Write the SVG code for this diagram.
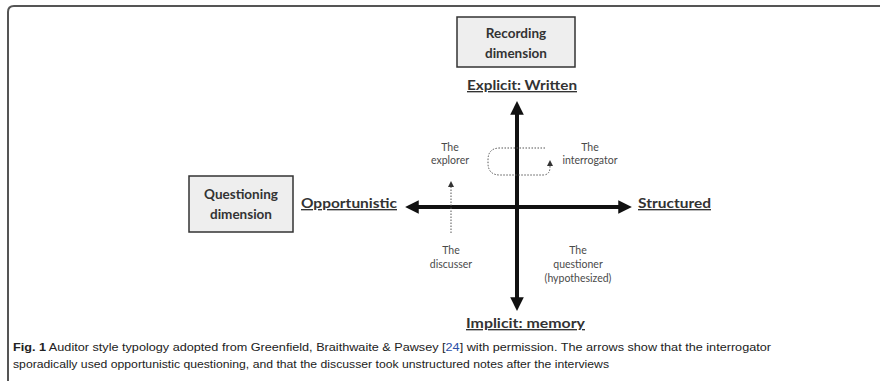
<svg xmlns="http://www.w3.org/2000/svg" width="880" height="381" viewBox="0 0 880 381">
  <defs>
    <style>
      .frame { fill: none; stroke: #555; stroke-width: 2; }
      .dimbox { fill: #eeeeee; stroke: #333; stroke-width: 1.5; }
      .dim { font-family: Lato, "Open Sans", sans-serif; font-weight: bold; font-size: 13.5px; fill: #333; text-anchor: middle; }
      .pole { font-family: Lato, "Open Sans", sans-serif; font-weight: bold; font-size: 13.5px; fill: #333; text-decoration: underline; }
      .axis { stroke: #111; stroke-width: 4; fill: none; }
      .role { font-family: Lato, "Open Sans", sans-serif; font-size: 10.5px; fill: #4a4a4a; text-anchor: middle; }
      .dash { stroke: #555; stroke-width: 1; stroke-dasharray: 1.5 1.5; fill: none; }
      .cap { font-family: "Liberation Sans", Arial, sans-serif; font-size: 11px; fill: #222; }
    </style>
    <marker id="bigHead" viewBox="0 0 10 10" refX="2" refY="5" markerWidth="3.4" markerHeight="3.4" orient="auto-start-reverse" markerUnits="strokeWidth">
      <path d="M0,0 L10,5 L0,10 Z" fill="#111"/>
    </marker>
    <marker id="smallHead" viewBox="0 0 10 10" refX="5" refY="5" markerWidth="6" markerHeight="6" orient="auto" markerUnits="userSpaceOnUse">
      <path d="M0,0 L10,5 L0,10 Z" fill="#333"/>
    </marker>
  </defs>

  <!-- outer figure frame (open at right and bottom) -->
  <path class="frame" d="M8,381 V12 Q8,6 14,6 H880"/>

  <g id="recording-dimension">
    <rect class="dimbox" x="457" y="17" width="118" height="50"/>
    <text class="dim" x="516" y="38">Recording</text>
    <text class="dim" x="516" y="58">dimension</text>
  </g>

  <g id="questioning-dimension">
    <rect class="dimbox" x="189" y="176" width="104" height="56"/>
    <text class="dim" x="241" y="199">Questioning</text>
    <text class="dim" x="241" y="219">dimension</text>
  </g>

  <g id="explicit-written">
    <text class="pole" x="467" y="90" textLength="110" lengthAdjust="spacingAndGlyphs">Explicit: Written</text>
  </g>
  <g id="implicit-memory">
    <text class="pole" x="466" y="328" textLength="119" lengthAdjust="spacingAndGlyphs">Implicit: memory</text>
  </g>
  <g id="opportunistic">
    <text class="pole" x="301" y="208" textLength="96" lengthAdjust="spacingAndGlyphs">Opportunistic</text>
  </g>
  <g id="structured">
    <text class="pole" x="638" y="208" textLength="73" lengthAdjust="spacingAndGlyphs">Structured</text>
  </g>

  <g id="explorer">
    <text class="role" x="450" y="151">The</text>
    <text class="role" x="450" y="164">explorer</text>
  </g>
  <g id="interrogator">
    <text class="role" x="590" y="151">The</text>
    <text class="role" x="590" y="164">interrogator</text>
  </g>
  <g id="discusser">
    <text class="role" x="451" y="254">The</text>
    <text class="role" x="451" y="268">discusser</text>
  </g>
  <g id="questioner">
    <text class="role" x="578" y="254">The</text>
    <text class="role" x="578" y="268">questioner</text>
    <text class="role" x="578" y="282">(hypothesized)</text>
  </g>

  <g id="connectors">
    <!-- axes -->
    <line class="axis" x1="517" y1="112" x2="517" y2="300" marker-start="url(#bigHead)" marker-end="url(#bigHead)"/>
    <line class="axis" x1="416" y1="207" x2="621" y2="207" marker-start="url(#bigHead)" marker-end="url(#bigHead)"/>
    <!-- discusser moves up towards explorer -->
    <line class="dash" x1="451" y1="233" x2="451" y2="184" marker-end="url(#smallHead)"/>
    <!-- interrogator loop into opportunistic side and back -->
    <path class="dash" d="M545,148 H500 Q488,148 488,160 V163 Q488,175 500,175 H543 Q550,175 550,167 V163" marker-end="url(#smallHead)"/>
  </g>

  <g id="caption">
    <text class="cap" x="13" y="351" textLength="758" lengthAdjust="spacingAndGlyphs"><tspan font-weight="bold">Fig. 1</tspan> Auditor style typology adopted from Greenfield, Braithwaite &amp; Pawsey [<tspan fill="#2b4fa8">24</tspan>] with permission. The arrows show that the interrogator</text>
    <text class="cap" x="13" y="368" textLength="596" lengthAdjust="spacingAndGlyphs">sporadically used opportunistic questioning, and that the discusser took unstructured notes after the interviews</text>
  </g>
</svg>
